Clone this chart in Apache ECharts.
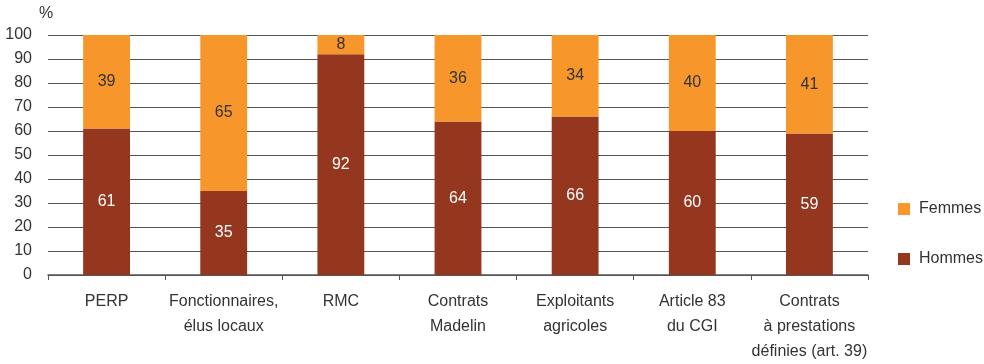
<!DOCTYPE html>
<html><head><meta charset="utf-8">
<script src="https://cdn.jsdelivr.net/npm/echarts@6/dist/echarts.min.js"></script>
<style>html,body{margin:0;padding:0;background:#fff}#c{width:984px;height:364px}</style>
</head><body><div id="c"></div>
<script>
const categories = ["PERP", "Fonctionnaires,\nélus locaux", "RMC", "Contrats\nMadelin", "Exploitants\nagricoles", "Article 83\ndu CGI", "Contrats\nà prestations\ndéfinies (art. 39)"];
const hommes = [61, 35, 92, 64, 66, 60, 59];
const femmes = [39, 65, 8, 36, 34, 40, 41];
const yTicks = [0, 10, 20, 30, 40, 50, 60, 70, 80, 90, 100];
const FONT = '"Liberation Sans Narrow", "Liberation Sans", Arial, sans-serif';
const chart = echarts.init(document.getElementById('c'), null, {renderer: 'canvas'});
chart.setOption({
  animation: false,
  textStyle: {fontFamily: FONT},
  grid: {left: 48, right: 116, top: 35, bottom: 89, containLabel: false},
  legend: {
    orient: 'vertical', left: 893, top: 196, itemGap: 34,
    itemWidth: 12, itemHeight: 12, icon: 'rect',
    textStyle: {fontFamily: FONT, fontSize: 16, color: '#333', padding: [0, 0, 0, 4]},
    data: ['Femmes', 'Hommes']
  },
  xAxis: {
    type: 'category', data: categories,
    axisLine: {lineStyle: {color: '#555', width: 1.5}},
    axisTick: {show: true, length: 5, lineStyle: {color: '#555'}},
    axisLabel: {fontFamily: FONT, fontSize: 16, color: '#333', margin: 14, lineHeight: 25, interval: 0}
  },
  yAxis: {
    type: 'value', min: 0, max: 100, interval: 10,
    name: '%', nameLocation: 'end', nameGap: 13,
    nameTextStyle: {fontFamily: FONT, fontSize: 16, color: '#333', align: 'center', padding: [0, 4, 0, 0]},
    axisLine: {show: false}, axisTick: {show: false},
    axisLabel: {fontFamily: FONT, fontSize: 16, color: '#333', margin: 16},
    splitLine: {lineStyle: {color: '#555', width: 1.2}}
  },
  series: [
    {name: 'Hommes', type: 'bar', stack: 's', data: hommes, barWidth: '40%',
     itemStyle: {color: '#95361E'},
     label: {show: true, position: 'inside', color: '#fff', fontFamily: FONT, fontSize: 16}},
    {name: 'Femmes', type: 'bar', stack: 's', data: femmes, barWidth: '40%',
     itemStyle: {color: '#F7962B'},
     label: {show: true, position: 'inside', color: '#333', fontFamily: FONT, fontSize: 16}}
  ]
});
</script></body></html>
